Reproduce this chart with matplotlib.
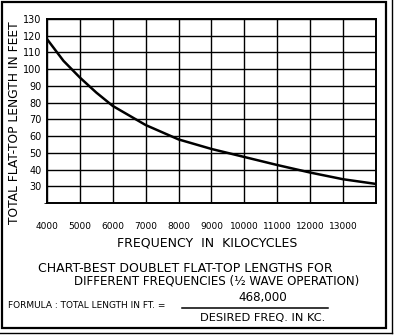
import numpy as np
import matplotlib
matplotlib.use("Agg")
import matplotlib.pyplot as plt
from matplotlib.patches import Rectangle
from matplotlib.lines import Line2D

# values
freq_kc = [4000, 4500, 5000, 5500, 6000, 7000, 8000, 9000, 10000, 11000, 12000, 13000, 14000]
length_ft = [118, 105, 95, 86, 78, 66.6, 58, 52.3, 47.5, 42.7, 38.2, 34.2, 31.4]
xticks = [4000, 5000, 6000, 7000, 8000, 9000, 10000, 11000, 12000, 13000]
yticks = [30, 40, 50, 60, 70, 80, 90, 100, 110, 120, 130]

W, H = 399, 335
plt.rcParams['font.family'] = ['DejaVu Sans']

fig = plt.figure(figsize=(W / 100, H / 100), dpi=100)

def fx(px):
    return px / W

def fy(py):
    return 1 - py / H

ax = fig.add_axes([fx(47), fy(203), fx(376) - fx(47), fy(19) - fy(203)])
ax.plot(freq_kc, length_ft, color='black', lw=1.8, solid_capstyle='butt')
ax.set_xlim(4000, 14000)
ax.set_ylim(20, 130)
ax.set_xticks(np.arange(4000, 14001, 1000))
ax.set_xticklabels([str(v) for v in xticks] + [''], fontsize=6.5)
ax.set_yticks(yticks)
ax.set_yticks(np.arange(20, 131, 10), minor=True)
ax.set_yticklabels([str(v) for v in yticks], fontsize=7)
ax.tick_params(length=0, pad=4)
ax.tick_params(axis='x', pad=14)
ax.grid(True, which='both', color='black', lw=1.0)
for s in ax.spines.values():
    s.set_linewidth(1.4)

fig.text(fx(15), fy(123), "TOTAL FLAT-TOP LENGTH IN FEET", rotation=90,
         ha='center', va='center', fontsize=8.8)
fig.text(fx(207), fy(243), "FREQUENCY  IN  KILOCYCLES", ha='center', va='center', fontsize=9.0)
fig.text(fx(185), fy(269), "CHART-BEST DOUBLET FLAT-TOP LENGTHS FOR", ha='center', va='center', fontsize=9.0)
fig.text(fx(217), fy(281), "DIFFERENT FREQUENCIES (½ WAVE OPERATION)", ha='center', va='center', fontsize=8.6)
fig.text(fx(8), fy(305), "FORMULA : TOTAL LENGTH IN FT. =", ha='left', va='center', fontsize=6.5)
fig.text(fx(263), fy(298), "468,000", ha='center', va='center', fontsize=8.6)
fig.text(fx(263), fy(318), "DESIRED FREQ. IN KC.", ha='center', va='center', fontsize=8.2)
fig.add_artist(Line2D([fx(182), fx(328)], [fy(308), fy(308)], color='black', lw=1.1))

# frame around the figure
fig.add_artist(Rectangle((fx(2), fy(328)), fx(386) - fx(2), fy(2) - fy(328),
                         fill=False, ec='black', lw=1.6))
fig.add_artist(Line2D([fx(392), fx(392)], [fy(0), fy(333)], color='black', lw=1.0))
fig.add_artist(Line2D([fx(0), fx(392)], [fy(333), fy(333)], color='black', lw=1.0))

fig.savefig("out.png", dpi=100)
